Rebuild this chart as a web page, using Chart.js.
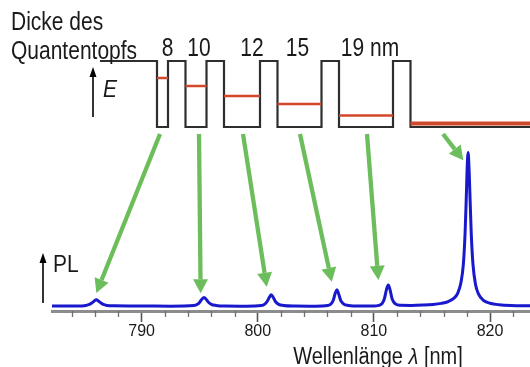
<!DOCTYPE html>
<html>
<head>
<meta charset="utf-8">
<script src="https://cdn.jsdelivr.net/npm/chart.js@4.4.1/dist/chart.umd.min.js"></script>
<style>
  html, body { margin: 0; padding: 0; background: #ffffff; }
  #wrap { width: 530px; height: 367px; }
</style>
</head>
<body>
<div id="wrap"><canvas id="c" width="530" height="367"></canvas></div>
<script>
// ---- Photoluminescence spectrum (wavelength in nm, PL in arbitrary units) ----
const specLambda = [
  782.28, 784.5, 785.2, 785.5, 785.7, 785.9, 786.09, 786.3, 786.5, 786.7, 787.0, 787.6,
  790.0, 792.5, 794.5, 794.8, 795.0, 795.2, 795.37, 795.55, 795.75, 796.0, 796.4, 797.2,
  799.0, 800.3, 800.6, 800.8, 801.0, 801.16, 801.33, 801.55, 801.8, 802.2, 803.2,
  805.0, 806.0, 806.3, 806.5, 806.68, 806.81, 806.95, 807.15, 807.4, 807.8, 808.8,
  810.0, 810.4, 810.7, 810.9, 811.1, 811.24, 811.38, 811.58, 811.85, 812.3,
  813.2, 814.2, 815.1, 815.8, 816.4, 816.9, 817.2, 817.5, 817.7, 817.85, 817.95, 818.02,
  818.11, 818.2, 818.28, 818.38, 818.53, 818.75, 819.0, 819.4, 820.0, 820.8, 821.8, 823.44
];
const specPL = [
  0.032, 0.032, 0.036, 0.042, 0.051, 0.063, 0.072, 0.063, 0.051, 0.042, 0.036, 0.033,
  0.032, 0.031, 0.035, 0.043, 0.057, 0.077, 0.087, 0.076, 0.056, 0.043, 0.036, 0.032,
  0.031, 0.035, 0.044, 0.061, 0.089, 0.104, 0.087, 0.058, 0.043, 0.036, 0.032,
  0.031, 0.035, 0.045, 0.069, 0.117, 0.136, 0.113, 0.066, 0.044, 0.036, 0.032,
  0.032, 0.036, 0.047, 0.079, 0.144, 0.168, 0.139, 0.075, 0.046, 0.037,
  0.036, 0.038, 0.042, 0.049, 0.061, 0.083, 0.112, 0.185, 0.30, 0.50, 0.72, 0.90,
  1.02, 0.90, 0.72, 0.50, 0.30, 0.17, 0.11, 0.07, 0.05, 0.04, 0.035, 0.033
];
const majorTicks = [790, 800, 810, 820];
const minorTicks = [784, 786, 788, 792, 794, 796, 798, 802, 804, 806, 808, 812, 814, 816, 818, 822];

// ---- Quantum well ladder (schematic units) ----
const wellLabels = ['8', '10', '12', '15', '19 nm'];
const wellWidths = [11, 21, 36, 44, 54];
const barrierWidth = 17.5;
const leadBarrier = 57;
const bulkLength = 120;
const barrierEnergy = 66;
const levelEnergy = [49, 41, 31, 23, 11.5];
const bulkLevel = 3.5;

// ---- Transitions: well (last one = bulk) -> emission line ----
const arrowStartPos = [60, 99, 143, 200, 267, 343];
const arrowStartEnergy = -7;
const arrowTipLambda = [786.1, 795.08, 800.77, 806.37, 810.38, 817.7];
const arrowTipPL = [0.116, 0.114, 0.156, 0.188, 0.2, 0.97];

const FONT = '"Liberation Sans", Arial, sans-serif';
const GREEN = '#6cbd5b';
const TEXT = '#1a1a1a';

// Build the band-edge profile and confined-level segments from the widths
const profile = [{ x: 0, y: barrierEnergy }];
const levels = [];
const wellSpans = [];
let pos = leadBarrier;
wellWidths.forEach((w, i) => {
  profile.push({ x: pos, y: barrierEnergy }, { x: pos, y: 0 }, { x: pos + w, y: 0 }, { x: pos + w, y: barrierEnergy });
  levels.push({ x: pos, y: levelEnergy[i] }, { x: pos + w, y: levelEnergy[i] }, { x: pos + w, y: null });
  wellSpans.push([pos, pos + w]);
  pos += w + barrierWidth;
});
profile.push({ x: pos, y: barrierEnergy }, { x: pos, y: 0 }, { x: pos + bulkLength, y: 0 });
const bulkLine = [{ x: pos, y: bulkLevel }, { x: pos + bulkLength, y: bulkLevel }];

function arrow(ctx, x0, y0, x1, y1, color, lw, headLen, headW) {
  const a = Math.atan2(y1 - y0, x1 - x0);
  const bx = x1 - headLen * Math.cos(a), by = y1 - headLen * Math.sin(a);
  ctx.save();
  ctx.strokeStyle = color; ctx.fillStyle = color; ctx.lineWidth = lw; ctx.lineCap = 'butt';
  ctx.beginPath(); ctx.moveTo(x0, y0); ctx.lineTo(bx, by); ctx.stroke();
  ctx.beginPath();
  ctx.moveTo(x1, y1);
  ctx.lineTo(bx + headW / 2 * Math.sin(a), by - headW / 2 * Math.cos(a));
  ctx.lineTo(bx - headW / 2 * Math.sin(a), by + headW / 2 * Math.cos(a));
  ctx.closePath(); ctx.fill();
  ctx.restore();
}

// Text drawn slightly stretched vertically (tall, narrow lettering)
function tallText(ctx, str, x, y, font, align, stretch) {
  ctx.save();
  ctx.font = font;
  ctx.textAlign = align;
  ctx.textBaseline = 'alphabetic';
  ctx.fillStyle = TEXT;
  ctx.translate(x, y);
  ctx.scale(1, stretch);
  ctx.fillText(str, 0, 0);
  ctx.restore();
}

const decorations = {
  id: 'decorations',
  afterDatasetsDraw(chart) {
    const ctx = chart.ctx;
    const xs = chart.scales.x, ys = chart.scales.y, xd = chart.scales.xd, yd = chart.scales.yd;
    const area = chart.chartArea;

    // minor ticks on the wavelength axis
    ctx.save();
    ctx.strokeStyle = '#6e6e6e'; ctx.lineWidth = 1.3;
    minorTicks.forEach(v => {
      const px = Math.round(xs.getPixelForValue(v)) + 0.5;
      ctx.beginPath(); ctx.moveTo(px, area.bottom); ctx.lineTo(px, area.bottom + 6); ctx.stroke();
    });
    ctx.restore();

    // transition arrows
    arrowStartPos.forEach((p, i) => {
      arrow(ctx, xd.getPixelForValue(p), yd.getPixelForValue(arrowStartEnergy),
        xs.getPixelForValue(arrowTipLambda[i]), ys.getPixelForValue(arrowTipPL[i]),
        GREEN, 4.3, 14, 15);
    });

    // heading
    const head = '21px ' + FONT;
    tallText(ctx, 'Dicke des', 11, 30, head, 'left', 1.2);
    tallText(ctx, 'Quantentopfs', 11, 59, head, 'left', 1.2);
    // well thickness labels
    const labelShift = [5, 3, 10, -2, 4];
    wellSpans.forEach((s, i) => {
      const cx = xd.getPixelForValue((s[0] + s[1]) / 2) + labelShift[i];
      tallText(ctx, wellLabels[i], cx, 56, head, 'center', 1.2);
    });

    // energy arrow
    const ex = xd.getPixelForValue(-7);
    arrow(ctx, ex, yd.getPixelForValue(10), ex, yd.getPixelForValue(60), '#000', 1.6, 10, 7);
    tallText(ctx, 'E', ex + 10, 97, 'italic 21px ' + FONT, 'left', 1.1);

    // PL arrow
    const px = area.left - 9;
    arrow(ctx, px, 303, px, 253, '#000', 1.6, 10, 7);
    tallText(ctx, 'PL', px + 10, 272, '21px ' + FONT, 'left', 1.1);

    // axis title with italic lambda
    const parts = [['Wellenlänge ', '20px '], ['λ', 'italic 20px '], [' [nm]', '20px ']];
    let total = 0;
    parts.forEach(p => { ctx.font = p[1] + FONT; total += ctx.measureText(p[0]).width; });
    let tx = 378 - total / 2;
    parts.forEach(p => {
      tallText(ctx, p[0], tx, 364, p[1] + FONT, 'left', 1.15);
      ctx.font = p[1] + FONT; tx += ctx.measureText(p[0]).width;
    });
  }
};

new Chart(document.getElementById('c'), {
  type: 'line',
  data: {
    datasets: [
      {
        data: specLambda.map((x, i) => ({ x, y: specPL[i] })),
        xAxisID: 'x', yAxisID: 'y',
        borderColor: '#1818cc', borderWidth: 3, pointRadius: 0,
        cubicInterpolationMode: 'monotone', borderJoinStyle: 'round', order: 1
      },
      {
        data: bulkLine, xAxisID: 'xd', yAxisID: 'yd',
        borderColor: '#cf4a2c', borderWidth: 4, pointRadius: 0, order: 2
      },
      {
        data: levels, xAxisID: 'xd', yAxisID: 'yd', spanGaps: false,
        borderColor: '#d4472a', borderWidth: 2.5, pointRadius: 0, order: 3
      },
      {
        data: profile, xAxisID: 'xd', yAxisID: 'yd',
        borderColor: '#2e2e2e', borderWidth: 2.2, pointRadius: 0, order: 4
      }
    ]
  },
  options: {
    responsive: false,
    animation: false,
    devicePixelRatio: 1,
    layout: { padding: { left: 52, right: 0, top: 0, bottom: 0 } },
    plugins: { legend: { display: false }, tooltip: { enabled: false } },
    elements: { line: { tension: 0 } },
    scales: {
      x: {
        type: 'linear', position: 'bottom', min: 782.28, max: 823.44,
        afterBuildTicks: s => { s.ticks = majorTicks.map(v => ({ value: v })); },
        afterFit: s => { s.height = 56; },
        border: { display: true, color: '#8c8c8c', width: 3 },
        grid: { drawOnChartArea: false, drawTicks: true, tickLength: 11, tickColor: '#555', tickWidth: 1.6 },
        ticks: { color: TEXT, padding: 0, maxRotation: 0, font: { family: FONT, size: 16 } }
      },
      y: { type: 'linear', display: false, min: 0, max: 2.0 },
      xd: { type: 'linear', axis: 'x', position: 'bottom', display: false, min: -48, max: 430 },
      yd: { type: 'linear', axis: 'y', position: 'left', display: false, min: -184, max: 127 }
    }
  },
  plugins: [decorations]
});
</script>
</body>
</html>
